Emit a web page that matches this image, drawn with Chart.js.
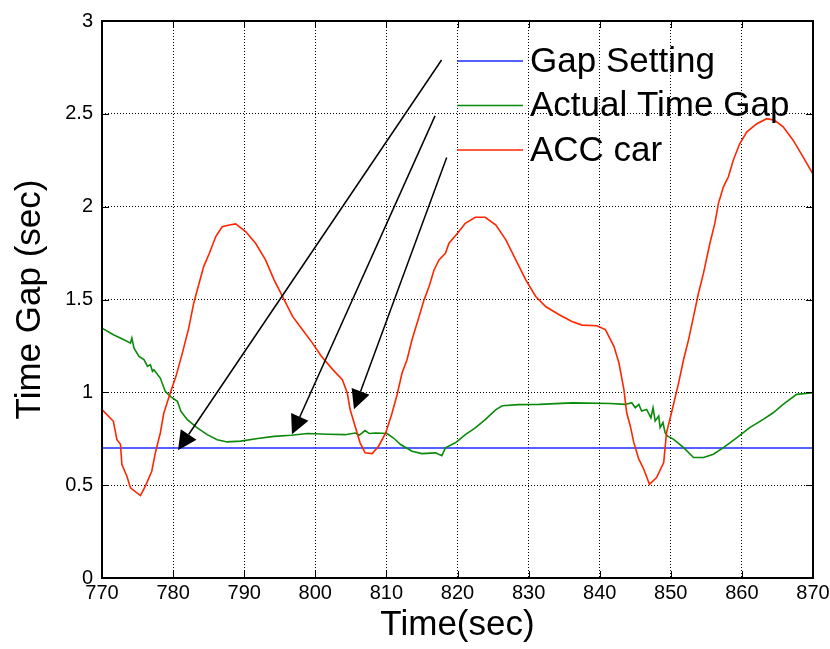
<!DOCTYPE html>
<html>
<head>
<meta charset="utf-8">
<script src="https://cdn.jsdelivr.net/npm/chart.js@4"></script>
<style>
html,body{margin:0;padding:0;background:#fff;}
canvas{display:block;}
</style>
</head>
<body>
<canvas id="c" width="830" height="649"></canvas>
<script>
// ---- data ----
const seriesLabels = ['Gap Setting', 'Actual Time Gap', 'ACC car'];

const settingTime = [770, 870];
const settingGap  = [0.7, 0.7];

const actualTime = [770.0,771.6,773.1,774.0,774.2,774.5,775.2,775.9,776.4,776.8,777.1,777.3,778.2,778.9,779.6,780.6,781.1,782.0,783.4,784.8,786.2,787.6,789.5,791.9,794.2,796.6,798.9,801.8,804.2,805.6,806.2,807.0,807.6,808.5,810.1,811.0,812.0,813.6,815.0,816.9,817.8,818.3,819.7,821.1,822.5,823.9,825.4,826.3,828.6,831.5,833.8,836.2,841.5,843.6,844.5,845.0,845.5,845.9,846.6,847.2,847.5,847.8,848.3,848.5,848.9,849.2,849.5,850.4,851.8,853.2,854.6,856.0,857.4,859.3,861.1,863.0,864.4,865.8,867.7,870.0];
const actualGap  = [1.346,1.31,1.283,1.265,1.292,1.238,1.194,1.176,1.140,1.149,1.113,1.122,1.077,1.005,0.978,0.952,0.898,0.853,0.808,0.772,0.745,0.733,0.737,0.751,0.763,0.769,0.778,0.774,0.772,0.781,0.770,0.794,0.778,0.781,0.778,0.754,0.719,0.683,0.670,0.674,0.659,0.701,0.728,0.772,0.808,0.853,0.907,0.928,0.934,0.935,0.939,0.943,0.940,0.935,0.944,0.917,0.935,0.899,0.908,0.863,0.917,0.846,0.872,0.810,0.837,0.783,0.765,0.747,0.702,0.649,0.649,0.667,0.702,0.756,0.810,0.854,0.890,0.935,0.989,0.998];

const accTime = [770.1,771.6,772.1,772.6,772.8,773.5,774.0,775.4,776.1,777.0,777.5,778.2,778.7,779.6,780.4,781.3,782.2,782.9,783.6,784.3,785.1,786.0,786.9,787.9,788.8,790.2,791.6,793.0,794.2,795.4,796.8,798.2,799.6,800.8,802.4,803.8,804.5,804.9,805.6,806.3,807.0,808.0,808.9,809.9,810.8,811.5,812.2,812.9,813.6,814.6,815.3,816.0,816.7,817.4,818.3,818.8,820.0,821.1,822.5,823.9,825.4,826.8,828.2,829.6,831.0,832.4,834.3,836.1,837.5,839.6,840.8,842.0,842.7,843.4,843.8,844.3,844.8,845.5,846.2,847.0,848.0,849.0,849.4,850.1,851.1,851.8,852.5,853.2,853.9,854.6,855.5,856.2,856.7,857.4,858.1,858.8,859.7,860.7,862.1,863.5,864.6,865.8,867.2,868.6,870.0];
const accGap  = [0.903,0.844,0.745,0.72,0.611,0.548,0.486,0.444,0.495,0.575,0.674,0.781,0.889,0.996,1.086,1.211,1.346,1.48,1.579,1.677,1.749,1.839,1.892,1.901,1.907,1.866,1.803,1.713,1.606,1.516,1.409,1.337,1.265,1.197,1.125,1.068,0.996,0.907,0.817,0.728,0.674,0.670,0.71,0.781,0.889,0.987,1.104,1.176,1.283,1.409,1.498,1.57,1.659,1.713,1.749,1.803,1.857,1.910,1.943,1.943,1.901,1.821,1.713,1.606,1.516,1.462,1.418,1.382,1.362,1.359,1.338,1.248,1.159,1.016,0.890,0.819,0.729,0.640,0.586,0.505,0.541,0.622,0.783,0.890,1.051,1.177,1.284,1.409,1.535,1.642,1.803,1.911,2.018,2.107,2.161,2.251,2.34,2.403,2.447,2.474,2.465,2.430,2.358,2.268,2.175];

const xTickValues = [770,780,790,800,810,820,830,840,850,860,870];
const xTickLabels = ['770','780','790','800','810','820','830','840','850','860','870'];
const yTickValues = [0,0.5,1,1.5,2,2.5,3];
const yTickLabels = ['0','0.5','1','1.5','2','2.5','3'];

const xTitle = 'Time(sec)';
const yTitle = 'Time Gap (sec)';

// annotation arrows (data units): tail -> head
const arrowTailX = [817.76, 816.84, 818.48];
const arrowTailY = [2.790, 2.489, 2.265];
const arrowHeadX = [780.69, 796.72, 805.44];
const arrowHeadY = [0.688, 0.774, 0.909];

// ---- chart ----
const colors = ['#1a2cff', '#0a8a0a', '#ff2600'];
function pts(xs, ys){ return xs.map((x,i)=>({x:x, y:ys[i]})); }

const boxPlugin = {
  id: 'boxPlugin',
  afterDatasetsDraw(chart){
    const ctx = chart.ctx, a = chart.chartArea;
    const xs = chart.scales.x, ys = chart.scales.y;
    ctx.save();
    // arrows
    ctx.strokeStyle = '#000'; ctx.fillStyle = '#000'; ctx.lineWidth = 1.5;
    for (let i=0;i<arrowTailX.length;i++){
      const x1 = xs.getPixelForValue(arrowTailX[i]), y1 = ys.getPixelForValue(arrowTailY[i]);
      const x2 = xs.getPixelForValue(arrowHeadX[i]), y2 = ys.getPixelForValue(arrowHeadY[i]);
      const ang = Math.atan2(y2-y1, x2-x1);
      const L = 19, W = 9.5;
      const bx = x2 - L*Math.cos(ang), by = y2 - L*Math.sin(ang);
      ctx.beginPath(); ctx.moveTo(x1,y1); ctx.lineTo(bx,by); ctx.stroke();
      ctx.beginPath();
      ctx.moveTo(x2,y2);
      ctx.lineTo(bx + W*Math.sin(ang), by - W*Math.cos(ang));
      ctx.lineTo(bx - W*Math.sin(ang), by + W*Math.cos(ang));
      ctx.closePath(); ctx.fill();
    }
    // inward tick marks
    ctx.lineWidth = 1;
    ctx.beginPath();
    xTickValues.forEach(v=>{
      const p = Math.round(xs.getPixelForValue(v))+0.5;
      ctx.moveTo(p, a.bottom); ctx.lineTo(p, a.bottom-7);
      ctx.moveTo(p, a.top); ctx.lineTo(p, a.top+7);
    });
    yTickValues.forEach(v=>{
      const p = Math.round(ys.getPixelForValue(v))+0.5;
      ctx.moveTo(a.left, p); ctx.lineTo(a.left+7, p);
      ctx.moveTo(a.right, p); ctx.lineTo(a.right-7, p);
    });
    ctx.stroke();
    // box
    ctx.lineWidth = 2;
    ctx.strokeRect(a.left, a.top, a.right-a.left, a.bottom-a.top);
    ctx.restore();
  },
  afterDraw(chart){
    const ctx = chart.ctx, a = chart.chartArea;
    ctx.save();
    ctx.font = '35px "Liberation Sans", Arial, sans-serif';
    ctx.textBaseline = 'middle';
    ctx.fillStyle = '#000';
    chart.data.datasets.forEach((ds, i)=>{
      const y = a.top + 40 + i*44.5;
      const x0 = a.left + 355;
      ctx.strokeStyle = ds.borderColor; ctx.lineWidth = 1.5;
      ctx.beginPath(); ctx.moveTo(x0, y); ctx.lineTo(x0+66, y); ctx.stroke();
      ctx.fillText(ds.label, x0+73, y+1);
    });
    ctx.restore();
  }
};

new Chart(document.getElementById('c'), {
  type: 'line',
  data: {
    datasets: [
      { label: seriesLabels[0], data: pts(settingTime, settingGap), borderColor: colors[0], order: 2 },
      { label: seriesLabels[1], data: pts(actualTime, actualGap), borderColor: colors[1], order: 1 },
      { label: seriesLabels[2], data: pts(accTime, accGap), borderColor: colors[2], order: 0 }
    ]
  },
  options: {
    responsive: false,
    animation: false,
    devicePixelRatio: 1,
    layout: { padding: { top: 21, right: 17, left: 0, bottom: 0 } },
    elements: { point: { radius: 0 }, line: { borderWidth: 1.6, tension: 0 } },
    plugins: { legend: { display: false }, tooltip: { enabled: false } },
    scales: {
      x: {
        type: 'linear', min: 770, max: 870,
        afterBuildTicks: s => { s.ticks = xTickValues.map(v=>({value:v})); },
        afterFit: s => { s.height = 71; s.paddingLeft = 0; s.paddingRight = 0; },
        ticks: {
          color: '#000', padding: 3, maxRotation: 0,
          font: { family: '"Liberation Sans", Arial, sans-serif', size: 20 },
          callback: (v) => xTickLabels[xTickValues.indexOf(v)]
        },
        grid: { color: '#000', lineWidth: 1, drawTicks: false },
        border: { display: false, dash: [1, 2] },
        title: { display: true, text: xTitle, color: '#000', padding: { top: 0, bottom: 3 },
                 font: { family: '"Liberation Sans", Arial, sans-serif', size: 35 } }
      },
      y: {
        type: 'linear', min: 0, max: 3,
        afterBuildTicks: s => { s.ticks = yTickValues.map(v=>({value:v})); },
        afterFit: s => { s.width = 102; s.paddingTop = 0; s.paddingBottom = 0; },
        ticks: {
          color: '#000', padding: 9,
          font: { family: '"Liberation Sans", Arial, sans-serif', size: 20 },
          callback: (v) => yTickLabels[yTickValues.indexOf(v)]
        },
        grid: { color: '#000', lineWidth: 1, drawTicks: false },
        border: { display: false, dash: [1, 2] },
        title: { display: true, text: yTitle, color: '#000', padding: { top: 9, bottom: 0 },
                 font: { family: '"Liberation Sans", Arial, sans-serif', size: 35 } }
      }
    }
  },
  plugins: [boxPlugin]
});
</script>
</body>
</html>
